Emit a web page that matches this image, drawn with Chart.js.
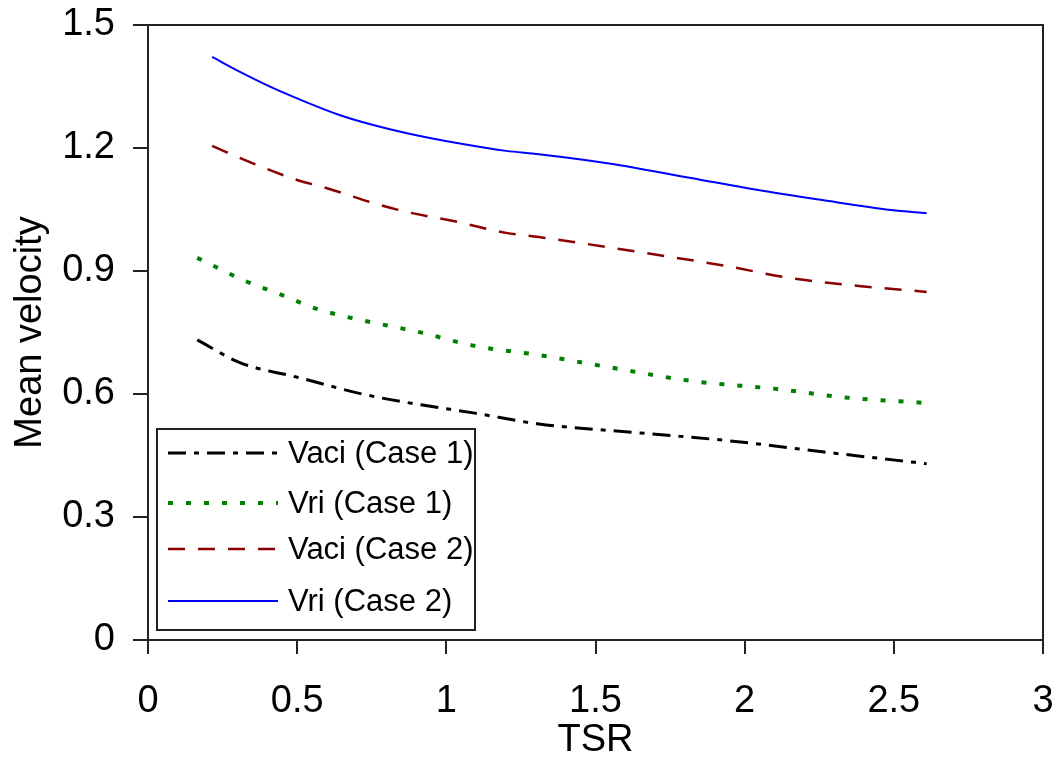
<!DOCTYPE html>
<html>
<head>
<meta charset="utf-8">
<script src="https://cdn.jsdelivr.net/npm/chart.js@4/dist/chart.umd.min.js"></script>
<style>
  html, body { margin: 0; padding: 0; background: #fff; }
  #wrap { width: 1060px; height: 763px; }
</style>
</head>
<body>
<div id="wrap"><canvas id="c" width="1060" height="763"></canvas></div>
<script>
// ---- data ----
const seriesLabels = ['Vaci (Case 1)', 'Vri (Case 1)', 'Vaci (Case 2)', 'Vri (Case 2)'];

const tsrVaci1 = [0.165, 0.31, 0.5, 0.73, 0.92, 1.09, 1.31, 1.65, 1.96, 2.26, 2.61];
const valVaci1 = [0.732, 0.676, 0.641, 0.598, 0.573, 0.554, 0.527, 0.505, 0.485, 0.459, 0.43];

const tsrVri1 = [0.165, 0.325, 0.44, 0.56, 0.667, 0.92, 1.09, 1.31, 1.54, 1.82, 2.11, 2.33, 2.61];
const valVri1 = [0.932, 0.876, 0.844, 0.809, 0.788, 0.749, 0.718, 0.695, 0.666, 0.632, 0.612, 0.592, 0.578];

const tsrVaci2 = [0.215, 0.34, 0.5, 0.6, 0.755, 0.868, 1.036, 1.2, 1.31, 1.71, 1.94, 2.15, 2.39, 2.61];
const valVaci2 = [1.205, 1.166, 1.122, 1.102, 1.066, 1.044, 1.02, 0.993, 0.983, 0.939, 0.912, 0.883, 0.863, 0.849];

const tsrVri2 = [0.215, 0.31, 0.42, 0.53, 0.644, 0.755, 0.868, 1.036, 1.2, 1.31, 1.54, 1.82, 2.04, 2.26, 2.49, 2.61];
const valVri2 = [1.422, 1.385, 1.346, 1.312, 1.28, 1.256, 1.236, 1.212, 1.193, 1.185, 1.163, 1.127, 1.098, 1.073, 1.049, 1.041];

const xTickValues = [0, 0.5, 1, 1.5, 2, 2.5, 3];
const yTickValues = [0, 0.3, 0.6, 0.9, 1.2, 1.5];

// ---- build ----
function pts(xs, ys) { return xs.map((x, i) => ({ x: x, y: ys[i] })); }

const FONT = "'Liberation Sans', Arial, sans-serif";

const datasets = [
  { label: seriesLabels[0], data: pts(tsrVaci1, valVaci1), borderColor: '#000000', borderWidth: 3, borderDash: [18, 8, 5, 8] },
  { label: seriesLabels[1], data: pts(tsrVri1, valVri1), borderColor: '#008000', borderWidth: 4, borderDash: [5, 13] },
  { label: seriesLabels[2], data: pts(tsrVaci2, valVaci2), borderColor: '#8B0000', borderWidth: 2.5, borderDash: [17, 13] },
  { label: seriesLabels[3], data: pts(tsrVri2, valVri2), borderColor: '#0000FF', borderWidth: 2, borderDash: [] }
].map(d => Object.assign(d, { pointRadius: 0, pointHoverRadius: 0, fill: false, tension: 0.3, cubicInterpolationMode: 'monotone' }));

const frameBox = {
  id: 'frameBox',
  afterDraw(chart) {
    const { ctx, chartArea: a } = chart;
    ctx.save();
    ctx.strokeStyle = '#222';
    ctx.lineWidth = 2;
    ctx.beginPath();
    ctx.moveTo(a.left, a.top);
    ctx.lineTo(a.right, a.top);
    ctx.lineTo(a.right, a.bottom);
    ctx.stroke();
    ctx.restore();
  }
};

const boxLegend = {
  id: 'boxLegend',
  afterDraw(chart) {
    const { ctx } = chart;
    const x0 = 157, y0 = 429, w = 318, h = 201;
    const rowY = [453, 503, 549, 601];
    ctx.save();
    ctx.fillStyle = '#fff';
    ctx.fillRect(x0, y0, w, h);
    ctx.strokeStyle = '#222';
    ctx.lineWidth = 2;
    ctx.strokeRect(x0, y0, w, h);
    chart.data.datasets.forEach((ds, i) => {
      const y = rowY[i];
      ctx.save();
      ctx.strokeStyle = ds.borderColor;
      ctx.lineWidth = ds.borderWidth;
      ctx.setLineDash(ds.borderDash || []);
      ctx.beginPath();
      ctx.moveTo(168, y);
      ctx.lineTo(278, y);
      ctx.stroke();
      ctx.restore();
      ctx.fillStyle = '#000';
      ctx.font = '31px ' + FONT;
      ctx.textBaseline = 'middle';
      ctx.textAlign = 'left';
      ctx.fillText(ds.label, 288, y + 1);
    });
    ctx.restore();
  }
};

function fmt(v) { return String(parseFloat(Number(v).toFixed(2))); }
function zeroPad(scale) {
  scale.paddingTop = 0; scale.paddingBottom = 0; scale.paddingLeft = 0; scale.paddingRight = 0;
}

new Chart(document.getElementById('c'), {
  type: 'line',
  data: { datasets: datasets },
  plugins: [frameBox, boxLegend],
  options: {
    responsive: false,
    animation: false,
    events: [],
    layout: { padding: { top: 25, right: 17, left: 0, bottom: 0 } },
    plugins: { legend: { display: false }, tooltip: { enabled: false } },
    scales: {
      x: {
        type: 'linear',
        min: 0, max: 3,
        afterBuildTicks(scale) { scale.ticks = xTickValues.map(v => ({ value: v })); },
        afterFit(scale) { scale.height = 123; zeroPad(scale); },
        ticks: { autoSkip: false, maxRotation: 0, minRotation: 0, padding: 25, color: '#000',
                 font: { family: FONT, size: 38 }, callback: fmt },
        grid: { drawOnChartArea: false, drawTicks: true, tickLength: 14, color: '#222', lineWidth: 2 },
        border: { display: true, color: '#222', width: 2 },
        title: { display: true, text: 'TSR', color: '#000', font: { family: FONT, size: 38 }, padding: { top: 0, bottom: 0 } }
      },
      y: {
        type: 'linear',
        min: 0, max: 1.5,
        afterBuildTicks(scale) { scale.ticks = yTickValues.map(v => ({ value: v })); },
        afterFit(scale) { scale.width = 148; zeroPad(scale); },
        ticks: { autoSkip: false, padding: 18, color: '#000',
                 font: { family: FONT, size: 38 }, callback: fmt },
        grid: { drawOnChartArea: false, drawTicks: true, tickLength: 15, color: '#222', lineWidth: 2 },
        border: { display: true, color: '#222', width: 2 },
        title: { display: true, text: 'Mean velocity', color: '#000', font: { family: FONT, size: 38 }, padding: { top: 8, bottom: 0 } }
      }
    }
  }
});
</script>
</body>
</html>
